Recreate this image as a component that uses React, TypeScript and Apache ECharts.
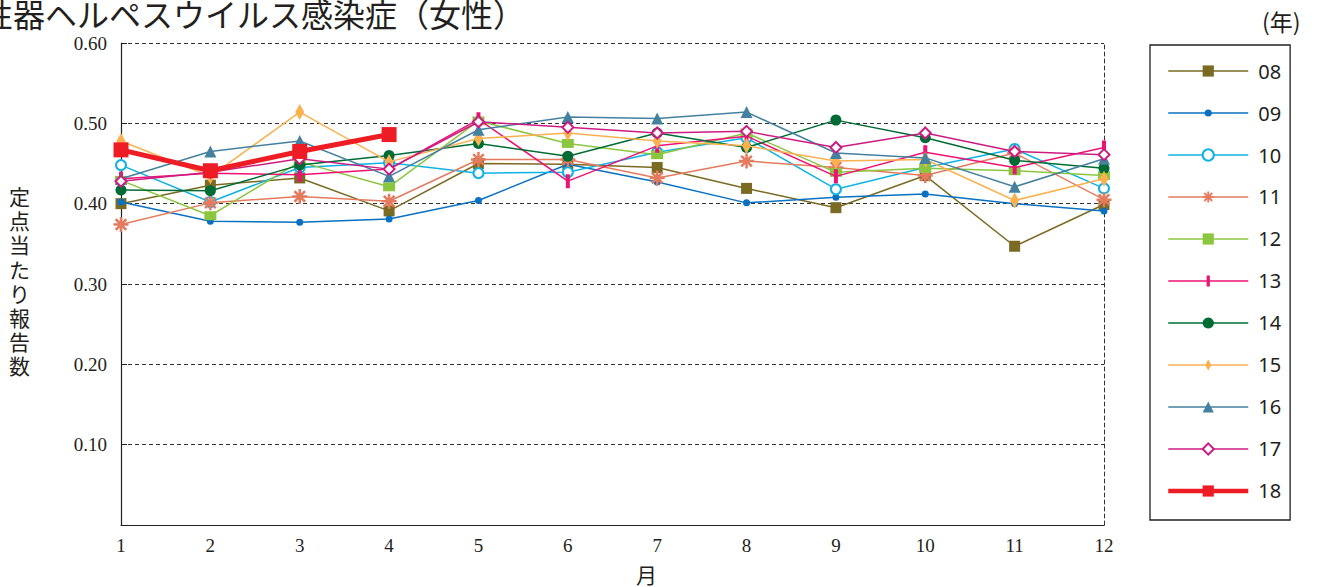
import React, { useEffect, useRef } from "react";
import * as echarts from "echarts";

const months = ["1", "2", "3", "4", "5", "6", "7", "8", "9", "10", "11", "12"];
const yearLabels = ["08", "09", "10", "11", "12", "13", "14", "15", "16", "17", "18"];

const s08 = [0.400, 0.423, 0.432, 0.391, 0.450, 0.449, 0.445, 0.419, 0.395, 0.435, 0.347, 0.399];
const s09 = [0.402, 0.378, 0.377, 0.381, 0.404, 0.449, 0.427, 0.401, 0.408, 0.412, 0.400, 0.391];
const s10 = [0.448, 0.402, 0.445, 0.451, 0.438, 0.439, 0.464, 0.482, 0.418, 0.445, 0.468, 0.419];
const s11 = [0.374, 0.401, 0.409, 0.403, 0.455, 0.455, 0.432, 0.453, 0.445, 0.435, 0.463, 0.405];
const s12 = [0.429, 0.385, 0.452, 0.421, 0.503, 0.475, 0.461, 0.488, 0.439, 0.444, 0.441, 0.435];
const s13 = [0.431, 0.438, 0.436, 0.443, 0.505, 0.428, 0.472, 0.484, 0.434, 0.464, 0.445, 0.470];
const s14 = [0.417, 0.416, 0.448, 0.460, 0.475, 0.459, 0.488, 0.470, 0.504, 0.482, 0.454, 0.444];
const s15 = [0.478, 0.434, 0.514, 0.452, 0.481, 0.488, 0.478, 0.472, 0.453, 0.455, 0.404, 0.431];
const s16 = [0.431, 0.465, 0.478, 0.434, 0.492, 0.508, 0.506, 0.514, 0.463, 0.457, 0.421, 0.456];
const s17 = [0.428, 0.439, 0.456, 0.443, 0.502, 0.495, 0.488, 0.490, 0.470, 0.488, 0.465, 0.461];
const s18 = [0.467, 0.441, 0.465, 0.486];

const yTicks = [0, 0.1, 0.2, 0.3, 0.4, 0.5, 0.6];
const yName = "定点当たり報告数";

// square-extent marker shapes (degenerate sub-paths pad the bounding box)
const ASTERISK =
  "path://M0,8.3L20,8.3L20,11.7L0,11.7Z" +
  "M8.3,0L11.7,0L11.7,20L8.3,20Z" +
  "M4.13,1.73L18.27,15.87L15.87,18.27L1.73,4.13Z" +
  "M18.27,4.13L4.13,18.27L1.73,15.87L15.87,1.73Z";
const BAR = "path://M5,0L9,0L9,14L5,14Z M0,7L0,7Z M14,7L14,7Z";
const TALL_DIAMOND = "path://M8,0L12.5,8L8,16L3.5,8Z M0,8L0,8Z M16,8L16,8Z";
const SMALL_DOT =
  "path://M2,5.5A3.5,3.5 0 1,1 9,5.5A3.5,3.5 0 1,1 2,5.5Z M0,5.5L0,5.5Z M11,5.5L11,5.5Z M5.5,0L5.5,0Z M5.5,11L5.5,11Z";

const seriesDefs = [
  { name: "08", data: s08, color: "#7a6a22", symbol: "rect", size: 11, width: 1.5 },
  { name: "09", data: s09, color: "#0a70c0", symbol: SMALL_DOT, size: 11, width: 1.5 },
  { name: "10", data: s10, color: "#10b2e4", symbol: "emptyCircle", size: 10, width: 1.5, border: 2.5 },
  { name: "11", data: s11, color: "#e57b5e", symbol: ASTERISK, size: 15, width: 1.5 },
  { name: "12", data: s12, color: "#8cc640", symbol: "rect", size: [12, 9], width: 1.5 },
  { name: "13", data: s13, color: "#ee1274", symbol: BAR, size: 14, width: 1.5 },
  { name: "14", data: s14, color: "#006c35", symbol: "circle", size: 11, width: 1.5 },
  { name: "15", data: s15, color: "#fbb150", symbol: TALL_DIAMOND, size: 16, width: 1.5 },
  { name: "16", data: s16, color: "#44819e", symbol: "triangle", size: 12, width: 1.5 },
  { name: "17", data: s17, color: "#cc1c82", symbol: "emptyDiamond", size: 11, width: 1.5, border: 1.5 },
  { name: "18", data: s18, color: "#ee1c25", symbol: "rect", size: 15, width: 5 },
];

export default function App() {
  const ref = useRef<HTMLDivElement>(null);

  useEffect(() => {
    if (!ref.current) return;
    const chart = echarts.init(ref.current, null, { renderer: "svg" });
    const serif = '"Liberation Serif", "DejaVu Serif", serif';
    const sans = '"Noto Sans", "Noto Sans CJK JP", sans-serif';
    const jp = '"Noto Sans CJK JP", sans-serif';

    const series = seriesDefs.map((d, i) => ({
      name: d.name,
      type: "line",
      data: d.data,
      symbol: d.symbol,
      symbolSize: d.size,
      symbolKeepAspect: true,
      showAllSymbol: true,
      z: 2 + i,
      lineStyle: { color: d.color, width: d.width },
      itemStyle: {
        color: d.color,
        borderColor: d.color,
        borderWidth: d.border || 0,
      },
      emphasis: { disabled: true },
    }));

    const legendData = yearLabels.map((n) => {
      const def = seriesDefs.find((d) => d.name === n)!;
      return { name: n, lineStyle: { width: def.width >= 3 ? 4.5 : 1.5, color: def.color } };
    });

    const yNameTexts = yName.split("").map((ch, i) => ({
      type: "text",
      left: 9,
      top: 184 + i * 24.2,
      style: { text: ch, font: "21px " + jp, lineHeight: 24, fill: "#231f20" },
    }));

    chart.setOption({
      animation: false,
      textStyle: { fontFamily: sans },
      grid: { left: 121, right: 215, top: 43, bottom: 62 },
      xAxis: {
        type: "category",
        data: months,
        boundaryGap: false,
        axisLine: { show: true, lineStyle: { color: "#231f20", width: 1.2 } },
        axisTick: { show: false },
        axisLabel: { fontFamily: serif, fontSize: 19, color: "#231f20", margin: 11 },
        splitLine: { show: false },
      },
      yAxis: [
        {
          type: "value",
          min: yTicks[0],
          max: yTicks[yTicks.length - 1],
          interval: 0.1,
          axisLine: { show: true, lineStyle: { color: "#231f20", width: 1.2 } },
          axisTick: { show: true, inside: true, length: 6, lineStyle: { color: "#231f20" } },
          axisLabel: {
            fontFamily: serif,
            fontSize: 19,
            color: "#231f20",
            margin: 14,
            formatter: (v: number) => (v === 0 ? "" : v.toFixed(2)),
          },
          splitLine: { show: true, lineStyle: { color: "#333", type: [4, 3], width: 1 } },
        },
        {
          type: "value",
          position: "right",
          min: yTicks[0],
          max: yTicks[yTicks.length - 1],
          interval: 0.1,
          axisLine: { show: true, lineStyle: { color: "#333", type: [4, 3], width: 1 } },
          axisTick: { show: false },
          axisLabel: { show: false },
          splitLine: { show: false },
        },
      ],
      legend: {
        orient: "vertical",
        left: 1150,
        top: 45,
        data: legendData,
        itemWidth: 80,
        itemHeight: 14,
        itemGap: 22,
        padding: [16, 9, 19, 16],
        borderColor: "#231f20",
        borderWidth: 1.3,
        selectedMode: false,
        symbolKeepAspect: true,
        textStyle: { fontFamily: sans, fontSize: 20, color: "#231f20", padding: [0, 0, 0, 5] },
      },
      graphic: [
        {
          type: "text",
          left: -19,
          top: -3,
          style: { text: "性器ヘルペスウイルス感染症（女性）", font: "32px " + jp, fill: "#231f20" },
        },
        {
          type: "text",
          left: 1262,
          top: 9,
          style: { text: "(年)", font: "23px " + jp, fill: "#231f20" },
        },
        ...yNameTexts,
        {
          type: "text",
          left: 636,
          top: 563,
          style: { text: "月", font: "21px " + jp, fill: "#231f20" },
        },
      ],
      series,
    });

    return () => chart.dispose();
  }, []);

  return (
    <div
      ref={ref}
      style={{ position: "fixed", left: 0, top: 0, width: 1319, height: 587, background: "#fff" }}
    />
  );
}
